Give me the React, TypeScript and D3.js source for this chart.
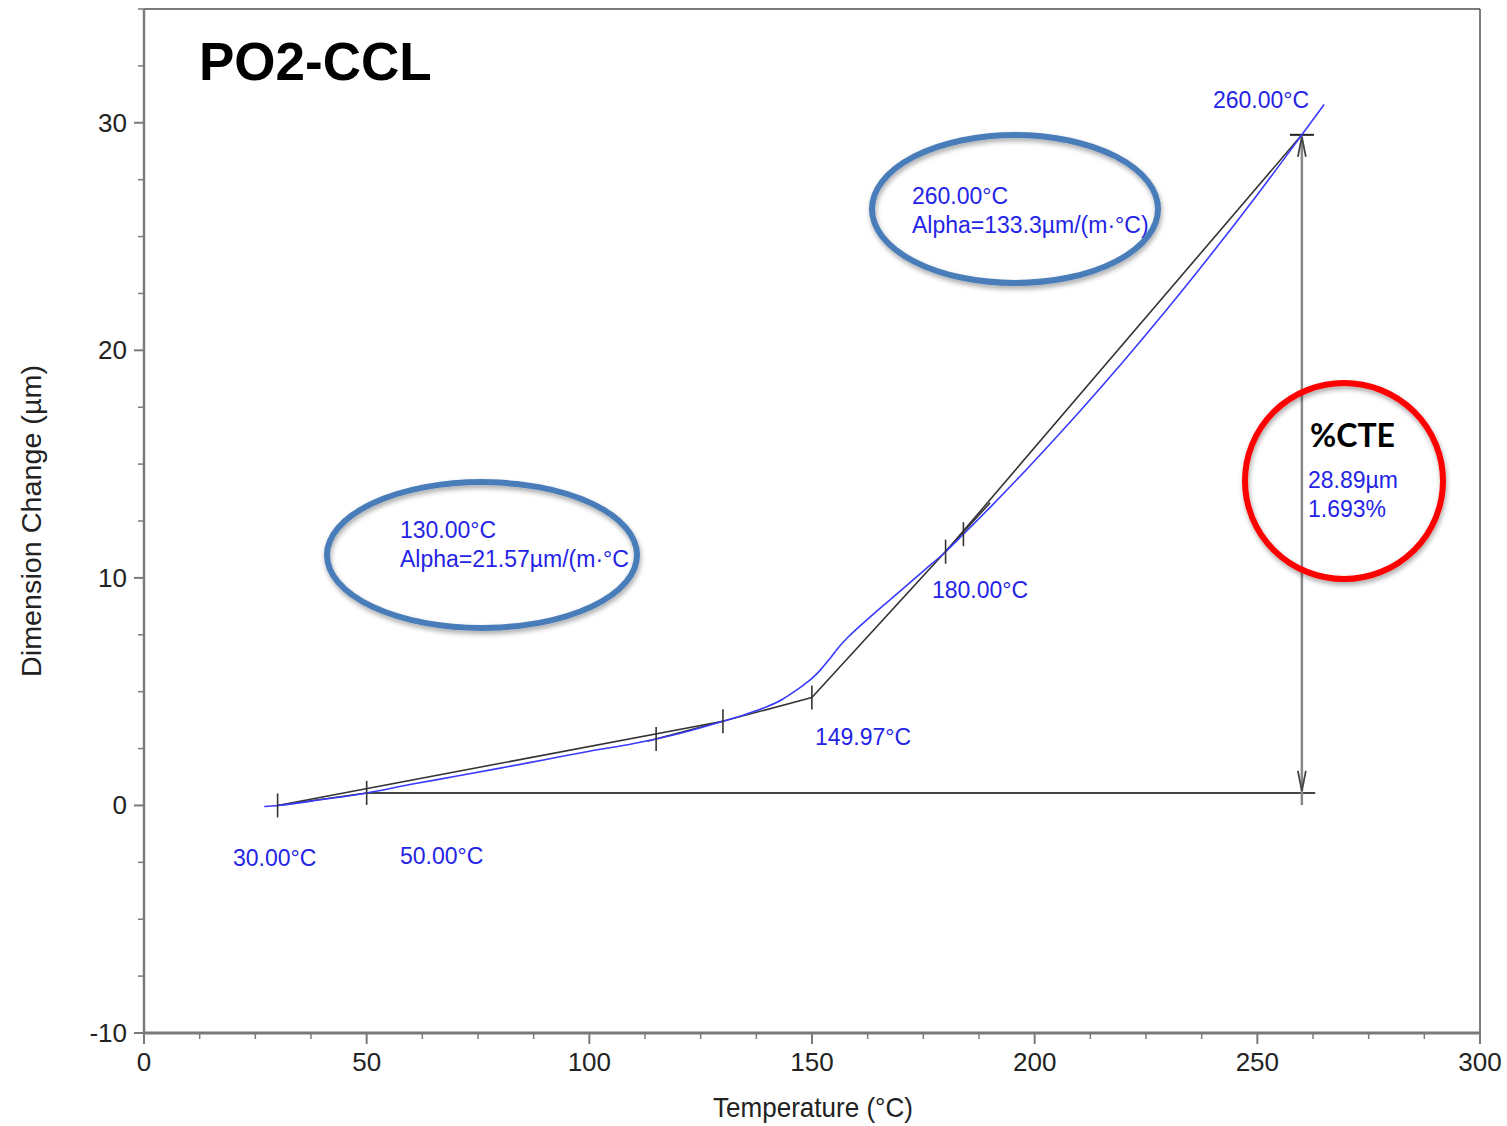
import React from "react";
import * as d3 from "d3";

// Measured TMA curve: temperature (°C) vs dimension change (µm)
const tempC = [27, 30, 40, 50, 60, 70, 80, 90, 100, 110, 115, 120, 130, 135, 140, 143.5, 146, 148, 150, 152, 154, 156, 158, 160, 165, 170, 175, 180, 184, 190, 200, 210, 220, 230, 240, 250, 260, 265];
const dimChange = [-0.05, 0.0, 0.26, 0.55, 0.93, 1.28, 1.64, 2.01, 2.38, 2.72, 2.92, 3.15, 3.7, 4.0, 4.35, 4.68, 5.0, 5.28, 5.58, 5.98, 6.45, 6.95, 7.38, 7.75, 8.62, 9.45, 10.3, 11.15, 11.92, 13.1, 15.15, 17.29, 19.53, 21.87, 24.31, 26.84, 29.47, 30.8];

// Analysis points
const markerTemps = [30, 50, 115, 130, 149.97, 180, 184];
const markerValues = [0.0, 0.55, 2.92, 3.7, 4.74, 11.15, 11.92];

// Analysis construction lines [t1, v1, t2, v2]
const chordLow = [30, 0.0, 130, 3.7];
const tangentLow = [113, 2.82, 149.97, 4.74];
const tangentHigh = [149.97, 4.74, 190, 13.3];
const chordHigh = [180, 11.15, 260, 29.47];
const startSegment = [30, 0.0, 50, 0.55];
const baseline = [50, 0.55, 263, 0.55];
const cteTemp = 260;
const cteLow = 0.55;
const cteHigh = 29.47;

const xMajor = [0, 50, 100, 150, 200, 250, 300];
const yMajor = [-10, 0, 10, 20, 30];
const xMinorStep = 12.5;
const yMinorStep = 2.5;

const W = 1507;
const H = 1126;
const x = d3.scaleLinear().domain([0, 300]).range([144, 1480]);
const y = d3.scaleLinear().domain([-10, 35]).range([1033, 9]);

const BLUE_TXT = "#2424e6";
const AXIS = "#7a7a7a";
const FONT = "'Liberation Sans', Arial, Helvetica, sans-serif";

function seg(s: number[], key: string) {
  return (
    <line key={key} x1={x(s[0])} y1={y(s[1])} x2={x(s[2])} y2={y(s[3])}
      stroke="#333" strokeWidth={1.6} />
  );
}

export default function App() {
  const line = d3.line<number>()
    .x((_, i) => x(tempC[i]))
    .y((d) => y(d))
    .curve(d3.curveMonotoneX);

  const xMinor = d3.range(0, 300 + 0.01, xMinorStep).filter((v) => v % 50 !== 0);
  const yMinor = d3.range(-10, 35 + 0.01, yMinorStep).filter((v) => v % 10 !== 0);

  const ax = x(cteTemp);
  const yTop = y(cteHigh);
  const yBot = y(cteLow);

  return (
    <svg width={W} height={H} style={{ position: "absolute", left: 0, top: 0, background: "#fff" }}>
      <defs>
        <filter id="shadow" x="-20%" y="-20%" width="140%" height="150%">
          <feDropShadow dx="1" dy="3" stdDeviation="2.5" floodColor="#000" floodOpacity="0.35" />
        </filter>
      </defs>

      {/* frame */}
      <line x1={x(0)} y1={y(35)} x2={x(300)} y2={y(35)} stroke={AXIS} strokeWidth={2} />
      <line x1={x(300)} y1={y(35)} x2={x(300)} y2={y(-10)} stroke="#555" strokeWidth={1.5} />
      <line x1={x(0)} y1={y(35)} x2={x(0)} y2={y(-10)} stroke={AXIS} strokeWidth={2.5} />
      <line x1={x(0)} y1={y(-10)} x2={x(300)} y2={y(-10)} stroke={AXIS} strokeWidth={3} />

      {/* x ticks */}
      {xMajor.map((v) => (
        <g key={"xm" + v}>
          <line x1={x(v)} x2={x(v)} y1={y(-10)} y2={y(-10) + 11} stroke={AXIS} strokeWidth={2} />
          <text x={x(v)} y={1071} textAnchor="middle" fontFamily={FONT} fontSize={26} fill="#222">{v}</text>
        </g>
      ))}
      {xMinor.map((v) => (
        <line key={"xn" + v} x1={x(v)} x2={x(v)} y1={y(-10)} y2={y(-10) + 6} stroke={AXIS} strokeWidth={1.5} />
      ))}

      {/* y ticks */}
      {yMajor.map((v) => (
        <g key={"ym" + v}>
          <line x1={x(0) - 10} x2={x(0)} y1={y(v)} y2={y(v)} stroke={AXIS} strokeWidth={2} />
          <text x={127} y={y(v) + 9} textAnchor="end" fontFamily={FONT} fontSize={26} fill="#222">{v}</text>
        </g>
      ))}
      {yMinor.map((v) => (
        <line key={"yn" + v} x1={x(0) - 6} x2={x(0)} y1={y(v)} y2={y(v)} stroke={AXIS} strokeWidth={1.5} />
      ))}

      {/* axis titles */}
      <text x={813} y={1117} textAnchor="middle" fontFamily={FONT} fontSize={28} fill="#222"
        textLength={200} lengthAdjust="spacingAndGlyphs">Temperature (°C)</text>
      <text transform="translate(41,521) rotate(-90)" textAnchor="middle" fontFamily={FONT} fontSize={28} fill="#222"
        textLength={312} lengthAdjust="spacingAndGlyphs">Dimension Change (µm)</text>

      {/* title */}
      <text x={199} y={80} fontFamily={FONT} fontSize={53} fontWeight="bold" fill="#000">PO2-CCL</text>

      {/* construction lines */}
      {seg(startSegment, "s0")}
      {seg(chordLow, "s1")}
      {seg(tangentLow, "s2")}
      {seg(tangentHigh, "s3")}
      {seg(chordHigh, "s4")}
      <line x1={x(baseline[0])} y1={y(baseline[1])} x2={x(baseline[2])} y2={y(baseline[3])} stroke="#444" strokeWidth={2} />

      {/* %CTE dimension arrow */}
      <line x1={ax} x2={ax} y1={yTop} y2={yBot + 12} stroke="#888" strokeWidth={2.5} />
      <line x1={ax - 12} x2={ax + 12} y1={yTop} y2={yTop} stroke="#222" strokeWidth={2} />
      <path d={`M${ax - 4},${yTop + 22} L${ax},${yTop + 2} L${ax + 4},${yTop + 22}`} fill="none" stroke="#444" strokeWidth={1.8} />
      <path d={`M${ax - 4},${yBot - 22} L${ax},${yBot - 2} L${ax + 4},${yBot - 22}`} fill="none" stroke="#444" strokeWidth={1.8} />

      {/* measured curve */}
      <path d={line(dimChange) || ""} fill="none" stroke="#3a3aff" strokeWidth={1.6} />

      {/* analysis markers */}
      {markerTemps.map((t, i) => (
        <line key={"mk" + i} x1={x(t)} x2={x(t)} y1={y(markerValues[i]) - 12} y2={y(markerValues[i]) + 12}
          stroke="#333" strokeWidth={1.6} />
      ))}

      {/* labels */}
      <g fontFamily={FONT} fontSize={23} fill={BLUE_TXT}>
        <text x={1213} y={108}>260.00°C</text>
        <text x={912} y={204}>260.00°C</text>
        <text x={912} y={233}>Alpha=133.3µm/(m·°C)</text>
        <text x={400} y={538}>130.00°C</text>
        <text x={400} y={567}>Alpha=21.57µm/(m·°C</text>
        <text x={932} y={598}>180.00°C</text>
        <text x={815} y={745}>149.97°C</text>
        <text x={233} y={866}>30.00°C</text>
        <text x={400} y={864}>50.00°C</text>
        <text x={1308} y={488}>28.89µm</text>
        <text x={1308} y={517}>1.693%</text>
      </g>
      <text x={1310} y={447} fontFamily="Lato, 'Open Sans', sans-serif" fontSize={32} fontWeight="bold" fill="#000">%CTE</text>

      {/* highlight ellipses */}
      <g filter="url(#shadow)" fill="none" strokeWidth={6}>
        <ellipse cx={482} cy={555} rx={155} ry={73} stroke="#4a7dba" />
        <ellipse cx={1015} cy={209} rx={143} ry={74} stroke="#4a7dba" />
        <ellipse cx={1344} cy={481} rx={99} ry={98} stroke="#ff0000" />
      </g>
    </svg>
  );
}
